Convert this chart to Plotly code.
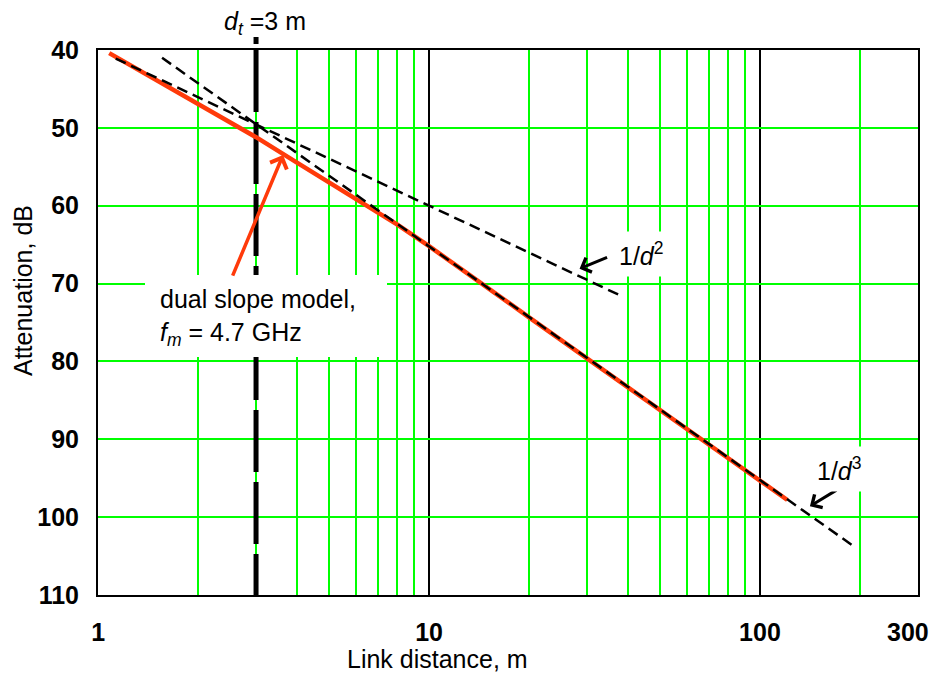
import numpy as np
import plotly.graph_objects as go

# ---------------- data ----------------
dual_d = [1.08, 1.5, 2, 2.5, 3, 4, 5, 6, 8, 10, 15, 20, 30, 50, 80, 121]
dual_L = [40.4, 43.9, 46.9, 49.2, 51.2, 54.5, 57.0, 59.1, 62.4, 65.2, 70.6, 74.3, 79.6, 86.2, 92.4, 97.8]

d2_d = [1.13, 38.6]
d2_L = [41.1, 71.7]

d3_d = [1.56, 190]
d3_L = [41.0, 103.6]

dt_d = [3, 3]
dt_L = [40, 110]

x_tickvals = [1, 10, 100, 300]
x_ticktext = ["1", "10", "100", ""]
x_last_label = "300"
x_minor = [2, 3, 4, 5, 6, 7, 8, 9, 20, 30, 40, 50, 60, 70, 80, 90, 200]
y_tickvals = [40, 50, 60, 70, 80, 90, 100, 110]

# ---------------- layout helpers ----------------
# target (screen) geometry of the plot area
SW, SH = 937, 682
PL, PR, PT, PB = 98, 918, 50, 595
PW, PH = PR - PL, PB - PT
OFF = 8  # page body margin
FW, FH = SW - 2 * OFF, SH - 2 * OFF
ML, MT = PL - OFF, PT - OFF
MR = FW - ML - PW
MB = FH - MT - PH


def px(x):
    return (x - PL) / PW


def py(y):
    return (PB - y) / PH


FONT = "Liberation Sans, Arial, sans-serif"
FS = 25
GREEN = "#00ff00"
RED = "#ff3a0a"
TICKFONT = dict(family=FONT, size=FS, color="black", weight="bold")

fig = go.Figure()

fig.add_trace(go.Scatter(x=dt_d, y=dt_L, mode="lines",
                         line=dict(color="black", width=5, dash="62px,10px"), showlegend=False))
fig.add_trace(go.Scatter(x=dual_d, y=dual_L, mode="lines",
                         line=dict(color=RED, width=4.5), showlegend=False))
fig.add_trace(go.Scatter(x=d2_d, y=d2_L, mode="lines",
                         line=dict(color="black", width=2.5, dash="11px,6px"), showlegend=False))
fig.add_trace(go.Scatter(x=d3_d, y=d3_L, mode="lines",
                         line=dict(color="black", width=2.5, dash="11px,6px"), showlegend=False))

# short piece of the d_t line above the frame
fig.add_shape(type="line", xref="x", yref="paper", x0=dt_d[0], x1=dt_d[0],
              y0=py(37), y1=py(44), layer="above",
              line=dict(color="black", width=5))

# white label box for the model annotation
fig.add_shape(type="rect", xref="paper", yref="paper",
              x0=px(145), x1=px(387), y0=py(357), y1=py(275),
              fillcolor="white", line=dict(width=0), layer="above")

annos = [
    dict(text="<i>d</i><sub><i>t</i></sub> =3 m", x=px(265), y=py(23), xref="paper", yref="paper",
         xanchor="center", yanchor="middle", showarrow=False),
    dict(text="Attenuation, dB", x=px(23), y=py(291), xref="paper", yref="paper",
         textangle=-90, xanchor="center", yanchor="middle", showarrow=False),
    dict(text="Link distance, m", x=px(437), y=py(659), xref="paper", yref="paper",
         xanchor="center", yanchor="middle", showarrow=False),
    dict(text="dual slope model,<br><i>f</i><sub><i>m</i></sub> = 4.7 GHz", x=px(158), y=py(317),
         xref="paper", yref="paper", xanchor="left", yanchor="middle", align="left",
         showarrow=False),
    # last x tick label, kept inside the page
    dict(text=x_last_label, x=px(908), y=py(632), xref="paper", yref="paper",
         xanchor="center", yanchor="middle", showarrow=False, font=TICKFONT),
    # arrows
    dict(text="", x=np.log10(3.62), y=53.5, xref="x", yref="y", ax=-51, ay=122,
         showarrow=True, arrowhead=4, arrowsize=1, arrowwidth=3.5, arrowcolor=RED),
    dict(text="", x=np.log10(28.5), y=68.1, xref="x", yref="y", ax=29, ay=-12,
         showarrow=True, arrowhead=4, arrowsize=1, arrowwidth=3, arrowcolor="black"),
    dict(text="", x=np.log10(141.6), y=98.6, xref="x", yref="y", ax=28, ay=-17,
         showarrow=True, arrowhead=4, arrowsize=1, arrowwidth=3, arrowcolor="black"),
    # slope labels
    dict(text="1/<i>d</i><sup>2</sup>", x=px(641), y=py(254), xref="paper", yref="paper",
         xanchor="center", yanchor="middle", showarrow=False, bgcolor="white", borderpad=6),
    dict(text="1/<i>d</i><sup>3</sup>", x=px(839), y=py(469), xref="paper", yref="paper",
         xanchor="center", yanchor="middle", showarrow=False, bgcolor="white", borderpad=6),
]
for a in annos:
    a.setdefault("font", dict(family=FONT, size=FS, color="black"))
    fig.add_annotation(**a)

fig.update_layout(
    width=FW, height=FH,
    margin=dict(l=ML, r=MR, t=MT, b=MB, pad=0, autoexpand=False),
    paper_bgcolor="white", plot_bgcolor="white",
    font=dict(family=FONT, size=FS, color="black"),
    showlegend=False,
)

fig.update_xaxes(
    type="log", range=[-0.0005, np.log10(300) + 0.0005], automargin=False,
    tickmode="array", tickvals=x_tickvals, ticktext=x_ticktext,
    ticks="", ticklabelstandoff=14,
    showgrid=True, gridcolor="black", gridwidth=1.5,
    minor=dict(tickmode="array", tickvals=x_minor, showgrid=True,
               gridcolor=GREEN, gridwidth=2, ticks=""),
    showline=True, linecolor="black", linewidth=2, mirror=True,
    zeroline=False, tickfont=TICKFONT,
)
fig.update_yaxes(
    range=[110, 40], tickmode="array", tickvals=y_tickvals, automargin=False,
    ticks="", ticklabelstandoff=12,
    showgrid=True, gridcolor=GREEN, gridwidth=2,
    showline=True, linecolor="black", linewidth=2, mirror=True,
    zeroline=False, tickfont=TICKFONT,
)

fig.write_html("out.html")
